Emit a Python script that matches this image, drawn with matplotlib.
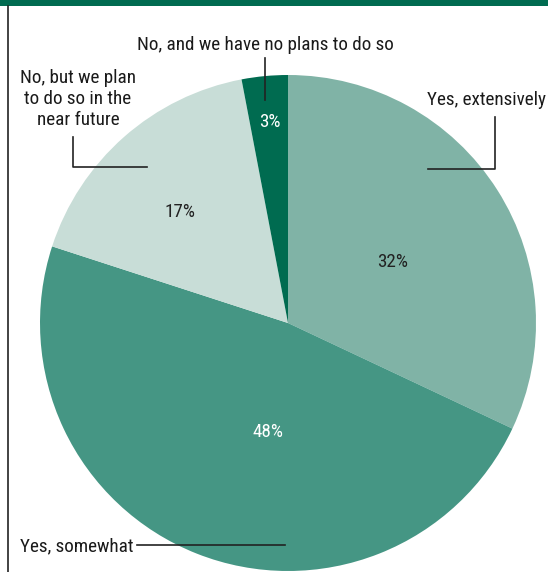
import matplotlib.pyplot as plt
from matplotlib.patches import Rectangle

# survey answers, clockwise from 12 o'clock
labels = ["Yes, extensively", "Yes, somewhat",
          "No, but we plan\nto do so in the\nnear future",
          "No, and we have no plans to do so"]
shares = [32, 48, 17, 3]
colors = ["#80b3a6", "#459684", "#c8ddd7", "#006b50"]
pct_colors = ["#222222", "white", "#222222", "white"]

W, H = 548, 572
plt.rcParams['font.family'] = ['Roboto Condensed', 'DejaVu Sans']

fig = plt.figure(figsize=(W / 100, H / 100), dpi=100)
ax = fig.add_axes([0, 0, 1, 1])


def py(y):
    return H - y


cx, cy, r = 288, py(323), 248
ax.pie(shares, colors=colors, startangle=90, counterclock=False,
       radius=r, center=(cx, cy), frame=True,
       wedgeprops=dict(linewidth=0))
ax.set_xlim(0, W)
ax.set_ylim(0, H)
ax.set_aspect('equal')
ax.axis('off')

# top bar and left rule
ax.add_patch(Rectangle((0, py(6)), W, 6, color="#006b50", lw=0, clip_on=False))
ax.plot([7.5, 7.5], [py(6), py(572)], color="#222222", lw=1.2)

fs = 13.8
txt = "#1a1a1a"
# percentage labels
pct_pos = [(393, 262), (268, 432), (180, 212), (270, 122)]
for s, (x, y), c in zip(shares, pct_pos, pct_colors):
    ax.text(x, py(y), f"{s}%", color=c, fontsize=fs, ha='center', va='center')

# category labels with leader lines
ax.text(546, py(100), labels[0], fontsize=fs, ha='right', va='center', color=txt)
ax.plot([495, 495, 428], [py(117), py(169), py(169)], color="#222222", lw=1.2)

ax.text(20, py(546), labels[1], fontsize=fs, ha='left', va='center', color=txt)
ax.plot([137, 285], [py(545), py(545)], color="#222222", lw=1.2)

ax.text(78, py(99), labels[2], fontsize=fs, ha='center', va='center',
        color=txt, linespacing=1.2)
ax.plot([73, 73, 147], [py(137), py(167), py(167)], color="#222222", lw=1.2)

ax.text(265, py(45), labels[3], fontsize=fs, ha='center', va='center', color=txt)
ax.plot([265, 265], [py(58), py(100)], color="#222222", lw=1.2)

fig.savefig("out.png", dpi=100)
